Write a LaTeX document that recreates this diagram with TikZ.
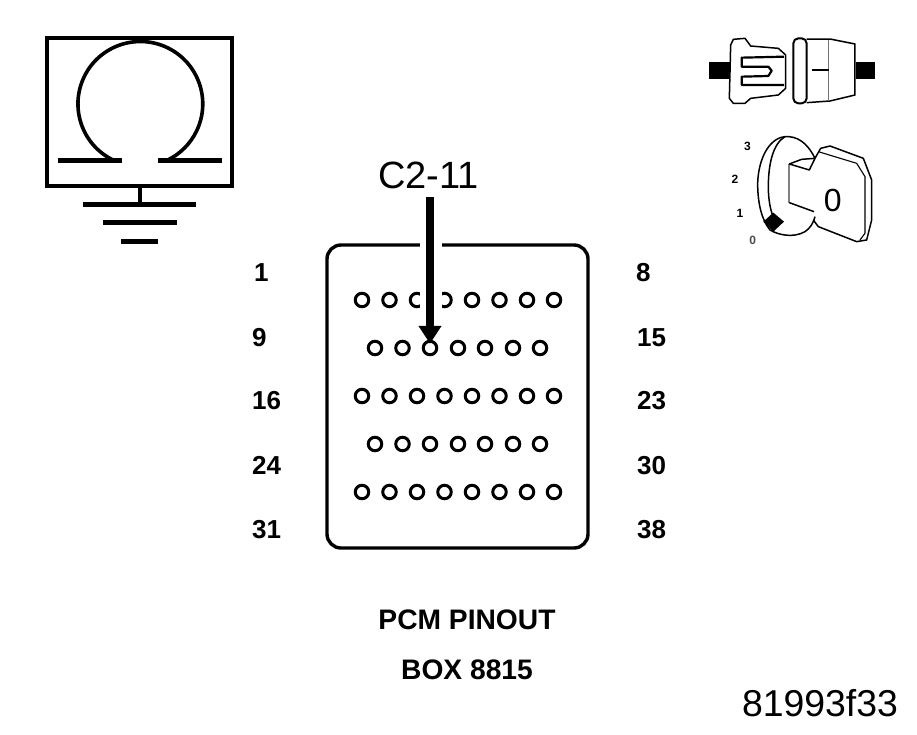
\documentclass[tikz,border=0pt]{standalone}
\usepackage{fontspec}
\setmainfont{Liberation Sans}
\usetikzlibrary{arrows.meta}
\tikzset{
  frame/.style={line width=4pt,draw=black},
  heavy/.style={line width=5pt,draw=black},
  omegaline/.style={line width=3.6pt,draw=black},
  boxline/.style={line width=3.4pt,draw=black,rounded corners=14pt},
  pin/.style={circle,draw=black,line width=3pt,minimum size=13.5pt,inner sep=0pt},
  thin icon/.style={line width=1.5pt,draw=black,line join=round},
  pinlabel/.style={anchor=base west,inner sep=0pt,font=\fontsize{26}{28}\selectfont\bfseries},
  keylabel/.style={inner sep=0pt,font=\fontsize{12}{13}\selectfont\bfseries},
  title/.style={inner sep=0pt,font=\fontsize{28.2}{30}\selectfont\bfseries},
  callout/.style={inner sep=0pt,font=\fontsize{38}{40}\selectfont},
  halo/.style={line width=22pt,draw=white},
  pointer/.style={line width=7.5pt,draw=black,-{Triangle[width=22pt,length=18pt]}}
}
\begin{document}
\begin{tikzpicture}[x=1pt,y=-1pt]
\useasboundingbox[fill=white] (0,0) rectangle (917,734);

% Omega meter
\draw[frame] (47,38) rectangle (232,186);
\draw[omegaline] (113,160) arc[start angle=116,end angle=424,radius=62.4];
\draw[heavy] (58,160) -- (122,160);
\draw[heavy] (158,160) -- (222,160);
\draw[line width=3.5pt] (140,186) -- (140,204);
\draw[heavy] (83,204) -- (196,204);
\draw[heavy] (103,222) -- (177,222);
\draw[heavy] (121,241) -- (158,241);

% Connector box
\draw[boxline] (327,245) rectangle (588,548);

% Pins
\foreach \i/\px/\py in {1/362/300,2/389.5/300,3/417/300,4/444.5/300,5/472/300,6/499.5/300,7/527/300,8/554/300,
  9/375/348,10/402.5/348,11/430/348,12/458/348,13/485/348,14/513/348,15/540/348,
  16/362/396,17/389.5/396,18/417/396,19/444.5/396,20/472/396,21/499.5/396,22/527/396,23/554/396,
  24/375/444,25/402.5/444,26/430/444,27/458/444,28/485/444,29/513/444,30/540/444,
  31/362/492,32/389.5/492,33/417/492,34/444.5/492,35/472/492,36/499.5/492,37/527/492,38/554/492}
  \node[pin] (p\i) at (\px,\py) {};

% Callout
\node[callout] (lbl) at (428.5,175.5) {C2-11};
\coordinate (start) at (430,197);
\draw[halo] (431,235) -- (431,322);
\draw[pointer] (start) -- ([yshift=-4pt]p11.north);

% Pin labels
\foreach \n/\t/\px/\py in {a/1/254/281,b/9/252/346,c/16/252/409,d/24/252/474,e/31/252/538,
  f/8/636/281,g/15/637/346,h/23/637/409,i/30/637/474,j/38/637/538}
  \node[pinlabel] (n\n) at (\px,\py) {\t};

% Titles
\node[title] (t1) at (467,620) {PCM PINOUT};
\node[title] (t2) at (467,670) {BOX 8815};
\node[inner sep=0pt,font=\fontsize{37.4}{39}\selectfont] (code) at (820,703) {81993f33};

% Connector icon and key icon (traced at 3x)
\begin{scope}[shift={(690,20)},x=0.3333pt,y=-0.3333pt]
  \fill (58,125) rectangle (120,178);
  \fill (497,125) rectangle (555,178);
  \draw[thin icon] (122,75) -- (130,58) -- (165,55) -- (182,78) -- (265,85) -- (287,105) -- (287,205) -- (265,225) -- (182,235) -- (165,250) -- (130,250) -- (118,235) -- cycle;
  \draw[thin icon,line width=2.2pt] (282,110) -- (155,113) -- (155,140) -- (235,140) -- (245,152) -- (235,168) -- (155,170) -- (155,195) -- (282,195);
  \draw[thin icon,rounded corners=5pt,line width=2pt] (310,55) rectangle (350,250);
  \draw[thin icon] (350,57) -- (420,57) -- (495,72) -- (495,225) -- (420,243) -- (350,248);
  \draw[thin icon,draw=black!55] (416,60) -- (416,242);
  \draw[line width=2pt] (365,150) -- (416,150);

  \draw[thin icon] (375,415) .. controls (350,365) and (320,348) .. (285,350) .. controls (235,355) and (205,420) .. (203,490) .. controls (203,550) and (215,600) .. (240,630) .. controls (265,645) and (310,655) .. (345,635) .. controls (360,625) and (370,610) .. (375,590);
  \draw[thin icon] (285,350) .. controls (250,370) and (235,430) .. (235,500) .. controls (235,550) and (245,590) .. (262,615);
  \draw[thin icon,draw=black!50,line width=2pt] (298,432) -- (298,548);
  \draw[thin icon] (298,548) -- (372,575);
  \draw[thin icon] (298,432) -- (335,418) -- (375,415) -- (358,450) -- cycle;
  \draw[thin icon] (375,415) -- (392,385) -- (420,378) -- (520,415) -- (545,480) -- (545,600) -- (530,660) -- (500,665) -- (385,620) -- (370,600);
  \draw[thin icon,line width=1.1pt] (385,395) -- (500,430) -- (525,470) -- (525,640) -- (510,660);
  \fill (250,578) -- (282,605) -- (250,635) -- (220,605) -- cycle;
  \node[inner sep=0pt,font=\fontsize{32}{34}\selectfont] (zero) at (428,540) {0};
  \node[keylabel] (k3) at (172,378) {3};
  \node[keylabel] (k2) at (135,478) {2};
  \node[keylabel] (k1) at (150,580) {1};
  \node[keylabel,text=black!70] (k0) at (188,662) {0};
\end{scope}
\end{tikzpicture}
\end{document}
